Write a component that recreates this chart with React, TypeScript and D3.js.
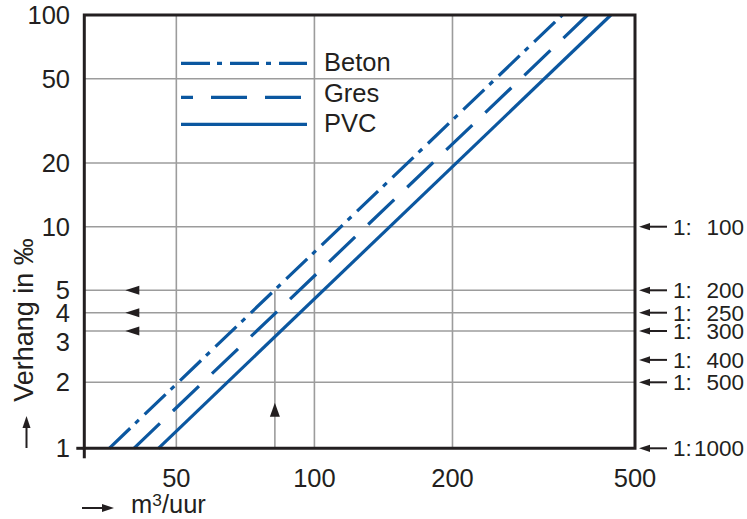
import React from 'react';
import * as d3 from 'd3';

// Flow (m3/uur) axis ticks and slope (‰) axis ticks
const flowTicks = [50, 100, 200, 500];
const flowGrid = [50, 100, 200];
const slopeTicks = [1, 2, 3, 4, 5, 10, 20, 50, 100];
const slopeGrid = [2, 10 / 3, 4, 5, 10, 20, 50];
// Slope ratios "1:n" marked on the right-hand side
const ratioLabels = [100, 200, 250, 300, 400, 500, 1000];

// Pipe materials with their capacity at 1 ‰ and at 100 ‰ slope
const materials = ['Beton', 'Gres', 'PVC'];
const flowAtMinSlope = [35.7, 40.4, 45.7];
const flowAtMaxSlope = [347, 394, 443];
const minSlope = 1;
const maxSlope = 100;

const exampleFlow = 82;
const exampleSlopes = [5, 4, 10 / 3];
const exampleMarkerFlow = 38.7;
const exampleArrowSlope = 1.5;

const BLUE = '#0b57a0';
const INK = '#231f20';
const GRID = '#9c9c9c';
const FONT = '"Liberation Sans", Arial, Helvetica, sans-serif';

const dashes: Record<string, string | undefined> = {
  Beton: '29 7 5 8',
  Gres: '36 18',
  PVC: undefined,
};

export default function App() {
  const width = 747;
  const height = 519;
  const left = 84.3;
  const right = 635;
  const top = 15;
  const bottom = 448.3;

  const x = d3.scaleLog().domain([31.5, 500]).range([left, right]);
  const y = d3
    .scaleLog()
    .domain([1, 2, 5, 10, 100])
    .range([bottom, 382.3, 290.3, 226.7, top]);

  const line = d3.line<[number, number]>();

  const fs = 25.5;
  const fsRatio = 22.5;

  const rightArrow = (yy: number, key: string) => {
    const tip = right + 4;
    return (
      <g key={key}>
        <line x1={tip + 8} x2={tip + 28} y1={yy} y2={yy} stroke={INK} strokeWidth={2} />
        <path d={`M${tip},${yy} L${tip + 11},${yy - 3.6} L${tip + 11},${yy + 3.6} Z`} fill={INK} />
      </g>
    );
  };

  return (
    <svg
      width={width}
      height={height}
      style={{ position: 'absolute', left: 0, top: 0, background: '#fff' }}
      fontFamily={FONT}
    >
      <rect x={0} y={0} width={width} height={height} fill="#fff" />

      {/* grid */}
      {flowGrid.map((f) => (
        <line key={`vx${f}`} x1={x(f)} x2={x(f)} y1={top} y2={bottom} stroke={GRID} strokeWidth={1.6} />
      ))}
      {slopeGrid.map((s) => (
        <line key={`hy${s}`} x1={left} x2={right} y1={y(s)} y2={y(s)} stroke={GRID} strokeWidth={1.6} />
      ))}

      {/* example: vertical read-off line */}
      <line
        x1={x(exampleFlow)}
        x2={x(exampleFlow)}
        y1={bottom}
        y2={y(exampleSlopes[0])}
        stroke={GRID}
        strokeWidth={1.6}
      />
      <path
        d={`M${x(exampleFlow)},${y(exampleArrowSlope) - 7} L${x(exampleFlow) - 5},${y(exampleArrowSlope) + 7} L${x(exampleFlow) + 5},${y(exampleArrowSlope) + 7} Z`}
        fill={INK}
      />
      {exampleSlopes.map((s) => {
        const tx = x(exampleMarkerFlow);
        const yy = y(s);
        return <path key={`ea${s}`} d={`M${tx},${yy} L${tx + 14},${yy - 4.5} L${tx + 14},${yy + 4.5} Z`} fill={INK} />;
      })}

      {/* capacity lines */}
      {materials.map((m, i) => (
        <path
          key={m}
          d={line([
            [x(flowAtMinSlope[i]), y(minSlope)],
            [x(flowAtMaxSlope[i]), y(maxSlope)],
          ]) as string}
          fill="none"
          stroke={BLUE}
          strokeWidth={3.2}
          strokeDasharray={dashes[m]}
        />
      ))}

      {/* frame */}
      <path
        d={`M${left},${top} L${right},${top} L${right},${bottom} L${left},${bottom} Z`}
        fill="none"
        stroke={INK}
        strokeWidth={3}
      />
      <line x1={left} x2={left} y1={bottom} y2={bottom + 10} stroke={INK} strokeWidth={3} />
      <line x1={left - 8} x2={left} y1={y(1)} y2={y(1)} stroke={INK} strokeWidth={3} />

      {/* legend */}
      {materials.map((m, i) => {
        const ly = [63.3, 97.3, 124.3][i];
        const ty = [71, 101.5, 132][i];
        return (
          <g key={`lg${m}`}>
            <line
              x1={181}
              x2={307}
              y1={ly}
              y2={ly}
              stroke={BLUE}
              strokeWidth={3.2}
              strokeDasharray={dashes[m]}
              strokeDashoffset={m === 'Gres' ? 24 : 0}
            />
            <text x={324} y={ty} fontSize={fs} fill={INK}>
              {m}
            </text>
          </g>
        );
      })}

      {/* left axis labels */}
      {slopeTicks.map((s) => (
        <text key={`yl${s}`} x={70} y={y(s)} dy="0.36em" textAnchor="end" fontSize={fs} fill={INK}>
          {s}
        </text>
      ))}

      {/* bottom axis labels */}
      {flowTicks.map((f) => (
        <text key={`xl${f}`} x={x(f)} y={487} textAnchor="middle" fontSize={fs} fill={INK}>
          {f}
        </text>
      ))}

      {/* right-hand ratio labels */}
      {ratioLabels.map((r) => {
        const yy = y(1000 / r);
        return (
          <g key={`rl${r}`}>
            {rightArrow(yy, `ra${r}`)}
            <text x={673} y={yy} dy="0.36em" fontSize={fsRatio} fill={INK}>
              1:
            </text>
            <text x={744} y={yy} dy="0.36em" textAnchor="end" fontSize={fsRatio} fill={INK}>
              {r}
            </text>
          </g>
        );
      })}

      {/* axis titles */}
      <text
        transform={`translate(33, 320) rotate(-90)`}
        textAnchor="middle"
        fontSize={27}
        fill={INK}
      >
        Verhang in ‰
      </text>
      <line x1={26.5} x2={26.5} y1={448} y2={426} stroke={INK} strokeWidth={2} />
      <path d="M26.5,416 L22.5,428 L30.5,428 Z" fill={INK} />

      <line x1={82} x2={104} y1={508} y2={508} stroke={INK} strokeWidth={2} />
      <path d="M114,508 L102,504 L102,512 Z" fill={INK} />
      <text x={131} y={513} fontSize={fs} fill={INK}>
        m<tspan fontSize={fs * 0.68} dy={-7}>3</tspan>
        <tspan dy={7}>/uur</tspan>
      </text>
    </svg>
  );
}
